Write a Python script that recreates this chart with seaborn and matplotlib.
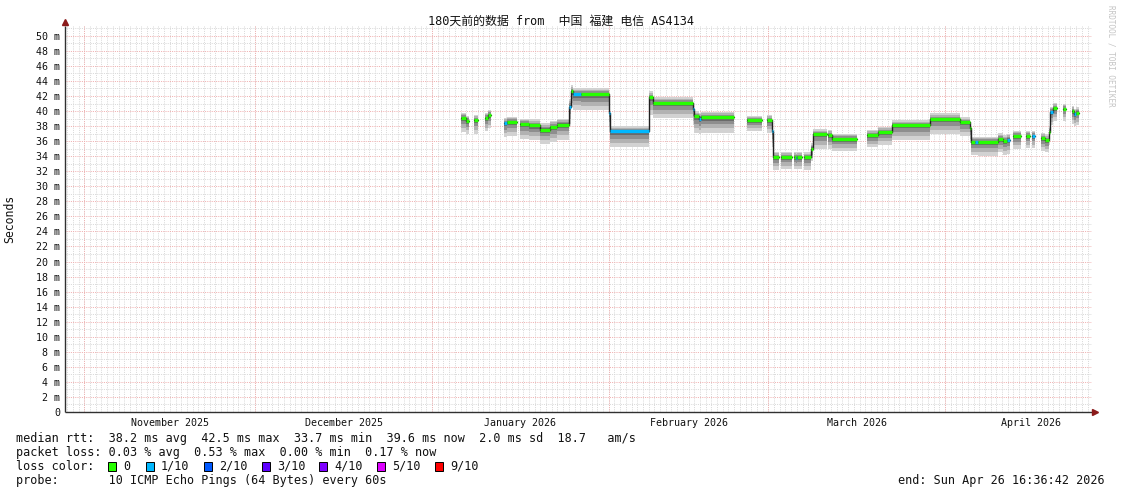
import numpy as np
import pandas as pd
import matplotlib
matplotlib.use("Agg")
import matplotlib.pyplot as plt
import matplotlib.dates as mdates
from matplotlib.patches import Rectangle
import seaborn as sns

# ---------------- data ----------------
# segment times in days since 2026-01-01 00:00
seg_start = [5.1, 6.0, 7.4, 9.3, 9.8, 12.6, 13.2, 15.4, 17.0, 18.9, 20.7, 21.9, 24.0, 24.3, 24.8, 26.2,
             31.0, 31.3, 38.1, 38.8, 45.7, 45.9, 46.8, 47.2, 55.2, 58.8, 59.6, 59.9, 61.2, 63.43,
             63.85, 64.1, 65.18, 66.48, 66.8, 69.5, 70.15, 76.28, 78.3, 80.7, 87.4, 92.6, 94.4, 94.6,
             95.3, 95.8, 99.3, 100.2, 100.9, 102.0, 104.2, 105.2, 106.9, 107.6, 108.2, 108.4, 108.9,
             110.7, 112.2, 112.6, 113.0]
seg_end = [6.0, 6.5, 8.1, 9.8, 10.3, 13.2, 14.9, 17.0, 18.9, 20.7, 21.9, 24.0, 24.3, 24.8, 26.2, 31.0,
           31.3, 38.1, 38.8, 45.7, 45.9, 46.8, 47.2, 52.9, 57.8, 59.6, 59.9, 60.8, 63.15, 63.85,
           64.1, 64.9, 66.48, 66.8, 69.28, 70.15, 74.53, 78.3, 80.7, 87.4, 92.6, 94.4, 94.6, 95.3,
           95.8, 99.3, 100.2, 100.9, 101.4, 103.4, 104.9, 105.8, 107.6, 108.2, 108.4, 108.9, 109.6,
           111.3, 112.6, 113.0, 113.5]
seg_median = [39.1, 38.7, 38.8, 39.1, 39.5, 38.4, 38.6, 38.3, 38.1, 37.5, 37.9, 38.2, 40.6, 42.6, 42.2, 42.2,
              39.8, 37.3, 41.8, 41.1, 40.3, 39.3, 39.0, 39.2, 38.8, 38.8, 37.3, 33.9, 33.9, 33.9,
              33.8, 33.9, 33.9, 35.0, 36.9, 36.8, 36.3, 36.8, 37.2, 38.1, 38.9, 38.5, 37.7, 35.9,
              35.9, 35.9, 36.3, 36.0, 36.2, 36.7, 36.7, 36.7, 36.4, 36.1, 37.2, 39.9, 40.4,
              40.3, 40.0, 39.6, 39.8]
seg_loss = [0, 0, 0, 0, 0, 1, 0, 0, 0, 0, 0, 0, 1, 0, 1, 0,
            1, 1, 0, 0, 1, 0, 1, 0, 0, 0, 1, 0, 0, 0,
            1, 0, 0, 0, 0, 0, 0, 0, 0, 0, 0, 0, 0, 0,
            1, 0, 0, 0, 1, 0, 0, 1, 0, 0, 0, 1, 0,
            0, 0, 1, 0]
seg_low = [37.2, 37.0, 37.0, 37.3, 37.7, 36.5, 36.7, 36.3, 36.1, 35.6, 35.9, 36.2, 38.3, 40.5, 40.2, 40.1,
           37.2, 35.2, 39.5, 39.1, 38.1, 37.1, 36.9, 37.1, 37.3, 37.1, 35.2, 32.2, 32.3, 32.3,
           32.3, 32.3, 32.2, 33.3, 35.0, 34.9, 34.7, 35.2, 35.5, 36.2, 37.0, 36.7, 35.7, 34.1,
           34.1, 34.0, 34.5, 34.2, 34.3, 35.0, 35.1, 35.1, 34.7, 34.5, 35.5, 38.1, 38.7,
           38.7, 38.3, 38.0, 38.1]
seg_high = [39.8, 39.4, 39.5, 39.8, 40.2, 39.1, 39.2, 39.0, 38.9, 38.4, 38.7, 39.0, 41.6, 43.4, 43.1, 43.1,
            40.6, 38.0, 42.6, 41.8, 41.1, 40.0, 39.8, 39.9, 39.4, 39.5, 38.1, 34.6, 34.6, 34.6,
            34.5, 34.6, 34.5, 35.7, 37.6, 37.5, 37.0, 37.5, 37.9, 38.8, 39.7, 39.2, 38.4, 36.6,
            36.6, 36.6, 37.1, 36.8, 37.0, 37.4, 37.4, 37.4, 37.1, 36.9, 38.0, 40.6, 41.1,
            41.0, 40.7, 40.3, 40.5]

loss_labels = ["0", "1/10", "2/10", "3/10", "4/10", "5/10", "9/10"]
loss_colors = ["#26ff00", "#00b8ff", "#0059ff", "#5e00ff", "#7e00ff", "#dd00ff", "#ff0000"]

month_starts = ["2025-11-01", "2025-12-01", "2026-01-01", "2026-02-01", "2026-03-01", "2026-04-01", "2026-05-01"]
month_labels = ["November 2025", "December 2025", "January 2026", "February 2026", "March 2026", "April 2026"]
y_tick_values = list(range(0, 51, 2))

title = "180天前的数据 from  中国 福建 电信 AS4134"
stat_lines = [
    "median rtt:  38.2 ms avg  42.5 ms max  33.7 ms min  39.6 ms now  2.0 ms sd  18.7   am/s",
    "packet loss: 0.03 % avg  0.53 % max  0.00 % min  0.17 % now",
]
loss_line_label = "loss color:"
probe_line = "probe:       10 ICMP Echo Pings (64 Bytes) every 60s"
end_text = "end: Sun Apr 26 16:36:42 2026"
watermark = "RRDTOOL / TOBI OETIKER"
start_time = "2025-10-28 16:36:42"
end_time = "2026-04-26 16:36:42"

# ---------------- style ----------------
sns.set_theme(style="white")
plt.rcParams["font.family"] = ["DejaVu Sans Mono", "Noto Sans CJK SC"]

W, H = 1121, 494
fig = plt.figure(figsize=(W / 100, H / 100), dpi=100)
fig.patch.set_facecolor("white")
ax = fig.add_axes([65.5 / W, (H - 412) / H, 1026 / W, 386 / H])
ax.set_facecolor("white")

t0 = mdates.date2num(pd.Timestamp(start_time))
t1 = mdates.date2num(pd.Timestamp(end_time))
base = mdates.date2num(pd.Timestamp("2026-01-01"))
ymax = 51.3
ax.set_xlim(t0, t1)
ax.set_ylim(0, ymax)
for s in ax.spines.values():
    s.set_visible(False)

minor_col = "#d9d9d9"
major_col = "#f0b0b0"
dash = (0, (1.0, 1.2))
lw_px = 0.72

# grid
day = np.ceil(t0)
while day < t1:
    ax.axvline(day, color=minor_col, lw=lw_px, ls=dash, zorder=0)
    day += 1
mnums = [mdates.date2num(pd.Timestamp(m)) for m in month_starts]
for m in mnums[:-1]:
    ax.axvline(m, color=major_col, lw=lw_px, ls=dash, zorder=0.5)
for v in range(1, 52):
    if v % 2 == 1:
        ax.axhline(v, color=minor_col, lw=lw_px, ls=dash, zorder=0)
for v in y_tick_values[1:]:
    ax.axhline(v, color=major_col, lw=lw_px, ls=dash, zorder=0.5)

# smoke
smoke_cols = ["#d2d2d2", "#b2b2b2", "#8e8e8e", "#6a6a6a"]
smoke_frac = [1.0, 0.72, 0.46, 0.22]
for s, e, m, lo, hi in zip(seg_start, seg_end, seg_median, seg_low, seg_high):
    xs = [base + s, base + e]
    for c, f in zip(smoke_cols, smoke_frac):
        ax.fill_between(xs, m - (m - lo) * f, m + (hi - m) * f, color=c, lw=0, zorder=2)

# black median line (connected groups)
rows = []
g = 0
for i in range(len(seg_start)):
    if i > 0 and abs(seg_start[i] - seg_end[i - 1]) > 1e-6:
        rows.append((base + seg_end[i - 1], seg_median[i - 1], g))
        g += 1
    rows.append((base + seg_start[i], seg_median[i], g))
rows.append((base + seg_end[-1], seg_median[-1], g))
df = pd.DataFrame(rows, columns=["t", "median", "group"])
sns.lineplot(data=df, x="t", y="median", units="group", estimator=None, sort=False,
             drawstyle="steps-post", color="#202020", linewidth=1.0, ax=ax, legend=False, zorder=3)

# loss-coloured median
ax.hlines([m for m in seg_median], [base + s for s in seg_start], [base + e for e in seg_end],
          colors=[loss_colors[l] for l in seg_loss], lw=2.4, zorder=4)

ax.set_xlabel("")
ax.set_ylabel("")

# axes lines & arrows
ax.plot([t0, t0], [0, ymax], color="#303030", lw=1.0, zorder=5, clip_on=False, solid_capstyle="butt")
ax.plot([t0, t1 + 0.3], [0, 0], color="#303030", lw=1.0, zorder=5, clip_on=False, solid_capstyle="butt")
ax.plot([t0], [ymax + 0.5], marker="^", color="#8b1a1a", ms=4, clip_on=False, zorder=6)
ax.plot([t1 + 0.6], [0], marker=">", color="#8b1a1a", ms=4, clip_on=False, zorder=6)

# ticks
ax.set_yticks(y_tick_values)
ax.set_yticklabels(["0" if v == 0 else f"{v} m" for v in y_tick_values])
ax.tick_params(axis="y", which="major", length=3, width=0.8, color="#d08080",
               labelsize=7.2, pad=1.0, labelcolor="#111111")
mids = [(mnums[i] + mnums[i + 1]) / 2 for i in range(len(month_labels))]
ax.set_xticks(mids)
ax.set_xticklabels(month_labels)
ax.tick_params(axis="x", which="major", length=0, labelsize=7.2, pad=4, labelcolor="#111111")
ax.set_xticks(mnums[:-1], minor=True)
ax.tick_params(axis="x", which="minor", length=3, width=0.8, color="#d08080")
ax.grid(False)

# title and labels
fig.text(0.5, 1 - 21 / H, title, ha="center", va="center", fontsize=8.6, color="#111111",
         family=["DejaVu Sans Mono", "Noto Sans CJK SC"])
fig.text(10 / W, 1 - 219 / H, "Seconds", rotation=90, ha="center", va="center", fontsize=8.3,
         color="#111111")
fig.text(1111 / W, 1 - 5 / H, watermark, rotation=270, ha="center", va="top", fontsize=5.5,
         color="#c4c4c4")

# bottom legend / stats
fs = 8.5
fig.text(16 / W, 1 - 438 / H, stat_lines[0], ha="left", va="center", fontsize=fs, color="#111111")
fig.text(16 / W, 1 - 452 / H, stat_lines[1], ha="left", va="center", fontsize=fs, color="#111111")
fig.text(16 / W, 1 - 466 / H, loss_line_label, ha="left", va="center", fontsize=fs, color="#111111")
box_x = [108, 146, 204, 262, 319, 377, 435]
for bx, lab, col in zip(box_x, loss_labels, loss_colors):
    fig.add_artist(Rectangle((bx / W, 1 - 471 / H), 8 / W, 9 / H, transform=fig.transFigure,
                             facecolor=col, edgecolor="#000000", lw=0.7))
    fig.text((bx + 15) / W, 1 - 466 / H, lab, ha="left", va="center", fontsize=fs, color="#111111")
fig.text(16 / W, 1 - 480 / H, probe_line, ha="left", va="center", fontsize=fs, color="#111111")
fig.text(1105 / W, 1 - 480 / H, end_text, ha="right", va="center", fontsize=fs, color="#111111")

fig.savefig("out.png", dpi=100, facecolor="white")
